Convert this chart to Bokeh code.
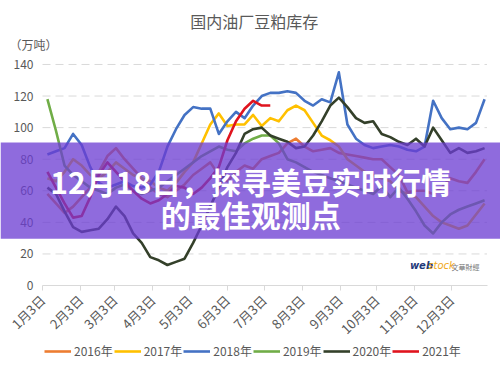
import numpy as np
from bokeh.plotting import figure
from bokeh.models import (FixedTicker, Legend, LegendItem, Label, BoxAnnotation,
                          Range1d, LinearAxis)
from bokeh.embed import file_html
from bokeh.resources import INLINE

chart_title = "国内油厂豆粕库存"
unit_text = "（万吨）"
banner_line1 = "12月18日，探寻美豆实时行情"
banner_line2 = "的最佳观测点"

tick_days = [0, 31, 59, 90, 120, 151, 181, 212, 243, 273, 304, 334]
tick_labels = ["1月3日", "2月3日", "3月3日", "4月3日", "5月3日", "6月3日",
               "7月3日", "8月3日", "9月3日", "10月3日", "11月3日", "12月3日"]
y_ticks = [0, 20, 40, 60, 80, 100, 120, 140]

week_days = [4, 11, 18, 25, 32, 39, 46, 53, 60, 67, 74, 81, 88, 95, 102, 109,
             116, 123, 130, 137, 144, 151, 158, 165, 172, 179, 186, 193, 200,
             207, 214, 221, 228, 235, 242, 249, 256, 263, 270, 277, 284, 291,
             298, 305, 312, 319, 326, 333, 340, 347, 354, 361]

s2016 = [58, 52, 46, 50, 56, 62, 72, 82, 87, 80, 74, 68, 62, 58, 56, 60,
         64, 70, 74, 78, 70, 66, 72, 76, 74, 80, 82, 84, 90, 93, 88, 85,
         86, 87, 84, 83, 82, 81, 80, 80, 75, 70, 59, 60, 60, 58, 62, 68,
         66, 65, 72, 80]
s2017 = [68, 66, 72, 80, 76, 70, 68, 72, 78, 74, 70, 68, 66, 62, 60, 65,
         72, 78, 90, 102, 109, 101, 102, 102, 108, 101, 106, 104, 111, 114, 111, 103,
         95, 92, 88, 80, 76, 72, 70, 68, 66, 60, 58, 56, 50, 44, 40, 38,
         36, 38, 45, 52]
s2018 = [83, 85, 87, 96, 89, 75, 65, 62, 64, 66, 63, 62, 64, 72, 88, 99,
         108, 113, 112, 112, 96, 104, 110, 106, 114, 120, 122, 122, 123, 122, 117, 114,
         118, 116, 135, 102, 93, 89, 87, 88, 89, 88, 86, 85, 88, 117, 106, 99,
         100, 99, 103, 118]
s2019 = [118, 98, 76, 70, 66, 62, 60, 58, 62, 64, 60, 58, 60, 62, 66, 70,
         74, 78, 82, 85, 88, 86, 85, 90, 93, 95, 95, 90, 80, 78, 75, 72,
         70, 68, 66, 64, 62, 60, 58, 63, 56, 62, 55, 47, 38, 33, 40, 45,
         48, 50, 52, 54]
s2020 = [62, 58, 47, 37, 34, 35, 36, 42, 50, 44, 33, 27, 18, 16, 13, 15,
         17, 27, 38, 50, 62, 75, 84, 96, 99, 100, 95, 93, 91, 87, 88, 95,
         104, 114, 119, 113, 106, 103, 104, 96, 94, 91, 89, 93, 88, 100, 92, 84,
         87, 84, 85, 87]
s2021 = [72, 62, 52, 43, 44, 56, 70, 78, 72, 66, 60, 55, 52, 54, 58, 63,
         62, 58, 62, 68, 75, 92, 104, 112, 117, 114, 114]

series_names = ["2016年", "2017年", "2018年", "2019年", "2020年", "2021年"]
series_values = [s2016, s2017, s2018, s2019, s2020, s2021]
series_colors = ["#ED7D31", "#FFC000", "#4472C4", "#70AD47", "#34402A", "#E0141E"]

GRAY = "#595959"
FONT = "Noto Sans CJK SC"
X_START, X_END = 0, 363   # axis extent (days)

p = figure(width=500, height=382, output_backend="svg", toolbar_location=None,
           x_range=Range1d(-34.3, 374.0), y_range=Range1d(-61.4, 180.5),
           x_axis_location=None, y_axis_location=None,
           min_border_left=0, min_border_right=0, min_border_top=0,
           min_border_bottom=0, outline_line_color=None,
           background_fill_color="white", border_fill_color="white")
p.xgrid.grid_line_color = None
p.ygrid.grid_line_color = None

# dashed horizontal gridlines across the axis extent
grid_vals = y_ticks[1:]
p.segment(x0=[X_START] * len(grid_vals), x1=[X_END] * len(grid_vals),
          y0=grid_vals, y1=grid_vals, line_color="#D9D9D9", line_width=1,
          line_dash="8 5")

items = []
for name, vals, col in zip(series_names, series_values, series_colors):
    r = p.line(week_days[:len(vals)], vals, line_color=col, line_width=2.6,
               line_join="round")
    items.append(LegendItem(label=name, renderers=[r]))

# y axis (fixed at the start of the x extent)
yaxis = LinearAxis(fixed_location=X_START, bounds=(0, 140),
                   ticker=FixedTicker(ticks=y_ticks),
                   axis_line_color=None, major_tick_line_color=None,
                   minor_tick_line_color=None, major_tick_out=0,
                   major_tick_in=0, major_label_standoff=9,
                   major_label_text_color=GRAY, major_label_text_font=FONT,
                   major_label_text_font_size="12px")
p.add_layout(yaxis, "left")

# x axis (fixed at y = 0)
xaxis = LinearAxis(fixed_location=0, bounds=(X_START, X_END),
                   ticker=FixedTicker(ticks=tick_days),
                   major_label_overrides={d: l for d, l in zip(tick_days, tick_labels)},
                   major_label_orientation=np.pi / 4,
                   axis_line_color="#D9D9D9", major_tick_line_color="#D9D9D9",
                   major_tick_out=5, major_tick_in=0,
                   minor_tick_line_color=None,
                   major_label_text_color=GRAY, major_label_text_font=FONT,
                   major_label_text_font_size="13px", major_label_standoff=7)
p.add_layout(xaxis, "below")

legend = Legend(items=items, orientation="horizontal", location=(44, 23),
                glyph_width=27, glyph_height=14, label_height=14,
                label_standoff=3, spacing=1, padding=0, margin=0,
                border_line_color=None, background_fill_alpha=0,
                label_text_font=FONT, label_text_font_size="12px",
                label_text_color=GRAY)
p.add_layout(legend)

# title and unit
p.add_layout(Label(x=173, y=167.7, text=chart_title, text_align="center",
                   text_baseline="middle", text_font=FONT,
                   text_font_size="16px", text_color=GRAY))
p.add_layout(Label(x=-27, y=152.5, text=unit_text, text_align="left",
                   text_baseline="middle", text_font=FONT,
                   text_font_size="12px", text_color=GRAY))

# webstock mark
p.add_layout(Label(x=300, y=12.5, text="web", text_font="DejaVu Sans",
                   text_font_style="bold italic", text_font_size="10px",
                   text_color="#1F3A7A", text_baseline="middle"))
p.add_layout(Label(x=315, y=12.5, text="stock", text_font="DejaVu Sans",
                   text_font_style="italic", text_font_size="10px",
                   text_color="#F0A818", text_baseline="middle"))
p.add_layout(Label(x=334, y=11.5, text="文華財經", text_font=FONT,
                   text_font_size="7px", text_color="#777777",
                   text_baseline="middle"))

# banner overlay
p.add_layout(BoxAnnotation(bottom=29.7, top=90.5,
                           fill_color="#6C3CD2", fill_alpha=0.76,
                           line_color=None))
p.add_layout(Label(x=170, y=66, text=banner_line1, text_align="center",
                   text_baseline="middle", text_font=FONT,
                   text_font_style="bold", text_font_size="30px",
                   text_color="white"))
p.add_layout(Label(x=170, y=45, text=banner_line2, text_align="center",
                   text_baseline="middle", text_font=FONT,
                   text_font_style="bold", text_font_size="30px",
                   text_color="white"))

open("out.html", "w").write(file_html(p, INLINE))
